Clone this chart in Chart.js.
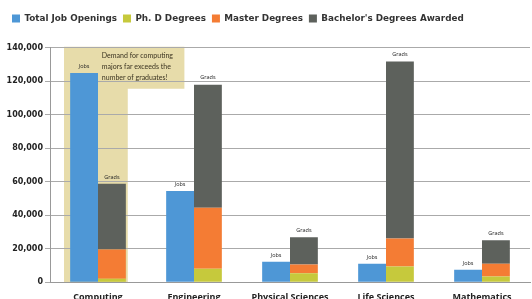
<!DOCTYPE html>
<html>
<head>
<meta charset="utf-8">
<script src="https://cdn.jsdelivr.net/npm/chart.js@4"></script>
<style>
  html, body { margin: 0; padding: 0; background: #fff; overflow: hidden; }
  #wrap { width: 532px; height: 305px; position: relative; }
</style>
</head>
<body>
<div id="wrap"><canvas id="chart"></canvas></div>
<script>
const categories = ["Computing", "Engineering", "Physical Sciences", "Life Sciences", "Mathematics"];
const jobOpenings = [124900, 54500, 12200, 11000, 7400];
const phdDegrees = [2000, 8000, 5400, 9400, 3400];
const masterDegrees = [17600, 36500, 5200, 16700, 7600];
const bachelorDegrees = [39200, 73500, 16300, 105700, 14100];
const yTicks = [0, 20000, 40000, 60000, 80000, 100000, 120000, 140000];
const noteLines = ["Demand for computing", "majors far exceeds the", "number of graduates!"];

// tan call-out box behind the Computing group (drawn under the grid)
const noteBox = {
  id: "noteBox",
  beforeDraw(chart) {
    const { ctx, chartArea, scales: { x, y } } = chart;
    const c = x.getPixelForValue(0);
    const cw = (x.right - x.left) / categories.length;
    const l = c - 0.354 * cw, r = c + 0.31 * cw, ur = c + 0.9 * cw;
    const mid = y.getPixelForValue(115500);
    ctx.save();
    ctx.fillStyle = "#e7dcaa";
    ctx.beginPath();
    ctx.moveTo(l, chartArea.top - 1);
    ctx.lineTo(ur, chartArea.top - 1);
    ctx.lineTo(ur, mid);
    ctx.lineTo(r, mid);
    ctx.lineTo(r, chartArea.bottom);
    ctx.lineTo(l, chartArea.bottom);
    ctx.closePath();
    ctx.fill();
    ctx.restore();
  },
  afterDatasetsDraw(chart) {
    const { ctx, scales: { x, y } } = chart;
    const c = x.getPixelForValue(0);
    const cw = (x.right - x.left) / categories.length;
    ctx.save();
    ctx.fillStyle = "#3a3320";
    ctx.font = "7px Lato";
    ctx.textBaseline = "middle";
    ctx.textAlign = "left";
    const y0 = y.getPixelForValue(135000);
    noteLines.forEach((t, i) => ctx.fillText(t, c + 0.04 * cw, y0 + i * 11));
    ctx.restore();
  }
};

// "Jobs" / "Grads" tags above each stack
const stackTags = {
  id: "stackTags",
  afterDatasetsDraw(chart) {
    const { ctx } = chart;
    const jobs = chart.getDatasetMeta(0).data;
    const grads = chart.getDatasetMeta(3).data;
    ctx.save();
    ctx.fillStyle = "#222";
    ctx.font = "5.5px 'Open Sans'";
    ctx.textAlign = "center";
    ctx.textBaseline = "bottom";
    jobs.forEach((b) => ctx.fillText("Jobs", b.x, b.y - 4));
    grads.forEach((b) => ctx.fillText("Grads", b.x, b.y - 4));
    ctx.restore();
  }
};

// extra gap under the legend
const legendGap = {
  id: "legendGap",
  beforeInit(chart) {
    const fit = chart.legend.fit;
    chart.legend.fit = function () { fit.bind(this)(); this.height += 15; };
  }
};

const ds = (label, data, color, stack) => ({
  label, data, stack, backgroundColor: color, borderWidth: 0,
  categoryPercentage: 0.58, barPercentage: 1.0,
});

new Chart(document.getElementById("chart"), {
  type: "bar",
  data: {
    labels: categories,
    datasets: [
      ds("Total Job Openings", jobOpenings, "#4e97d6", "jobs"),
      ds("Ph. D Degrees", phdDegrees, "#c6c93c", "grads"),
      ds("Master Degrees", masterDegrees, "#f47c34", "grads"),
      ds("Bachelor's Degrees Awarded", bachelorDegrees, "#5d615c", "grads"),
    ],
  },
  options: {
    responsive: true,
    maintainAspectRatio: false,
    animation: false,
    layout: { padding: { top: 8, left: 6, right: 2, bottom: 0 } },
    plugins: {
      legend: {
        align: "start",
        labels: { boxWidth: 8, boxHeight: 8, padding: 6, color: "#333",
          font: { family: "DejaVu Sans", size: 8.8, weight: "bold" } },
      },
      tooltip: { enabled: false },
    },
    scales: {
      x: {
        stacked: true,
        grid: { display: false },
        border: { color: "#999" },
        ticks: { padding: 2, color: "#222", font: { family: "Open Sans", size: 9, weight: "bold" } },
      },
      y: {
        stacked: true,
        min: 0, max: 140000,
        afterFit(s) { s.width = 44; },
        afterBuildTicks(s) { s.ticks = yTicks.map((v) => ({ value: v })); },
        grid: { color: "#aaa", tickLength: 5 },
        border: { color: "#999" },
        ticks: { padding: 2, color: "#222", font: { family: "DejaVu Sans", size: 8, weight: "bold" },
          callback: (v) => v.toLocaleString("en-US") },
      },
    },
  },
  plugins: [noteBox, stackTags, legendGap],
});
</script>
</body>
</html>
